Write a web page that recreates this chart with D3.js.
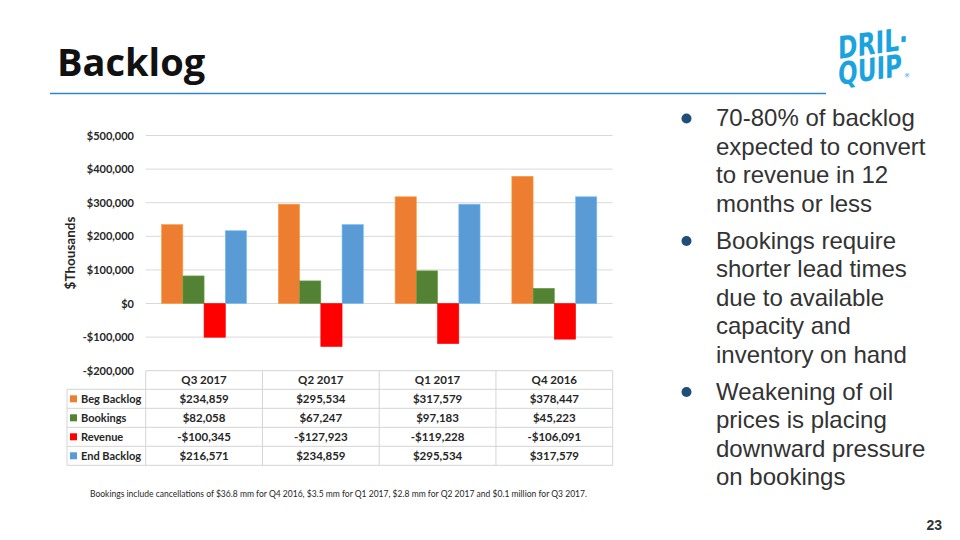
<!DOCTYPE html>
<html>
<head>
<meta charset="utf-8">
<script src="https://cdn.jsdelivr.net/npm/d3@7"></script>
<style>
  html, body { margin: 0; padding: 0; background: #fff; }
  svg { display: block; }
</style>
</head>
<body>
<svg id="chart" width="960" height="540"></svg>
<script>
// ---------- DATA ----------
const quarters = ["Q3 2017", "Q2 2017", "Q1 2017", "Q4 2016"];
const seriesNames = ["Beg Backlog", "Bookings", "Revenue", "End Backlog"];
const begBacklog = [234859, 295534, 317579, 378447];
const bookings = [82058, 67247, 97183, 45223];
const revenue = [-100345, -127923, -119228, -106091];
const endBacklog = [216571, 234859, 295534, 317579];
const yTicks = [-200000, -100000, 0, 100000, 200000, 300000, 400000, 500000];
const seriesColors = ["#ED7D31", "#548235", "#FF0000", "#5B9BD5"];
const bullets = [
  ["70-80% of backlog", "expected to convert", "to revenue in 12", "months or less"],
  ["Bookings require", "shorter lead times", "due to available", "capacity and", "inventory on hand"],
  ["Weakening of oil", "prices is placing", "downward pressure", "on bookings"]
];
const footnote = "Bookings include cancellations of $36.8 mm for Q4 2016, $3.5 mm for Q1 2017, $2.8 mm for Q2 2017 and $0.1 million for Q3 2017.";

const seriesValues = [begBacklog, bookings, revenue, endBacklog];

// ---------- SETUP ----------
const svg = d3.select("#chart");
const chartFont = "Lato, 'Open Sans', sans-serif";

// Title
svg.append("text")
  .attr("x", 57).attr("y", 76)
  .attr("font-family", "'Open Sans', 'Noto Sans', sans-serif")
  .attr("font-weight", 700)
  .attr("font-size", 38)
  .attr("fill", "#111")
  .text("Backlog");

svg.append("line")
  .attr("x1", 50).attr("x2", 826).attr("y1", 93.5).attr("y2", 93.5)
  .attr("stroke", "#2E86D0").attr("stroke-width", 1.6);

// Logo
const logo = svg.append("g").attr("transform", "translate(838,32) skewY(-8)");
logo.append("text")
  .attr("x", 0).attr("y", 27)
  .attr("font-family", "'DejaVu Sans', sans-serif")
  .attr("font-weight", 700)
  .attr("font-size", 31)
  .attr("fill", "#1BA3DF")
  .attr("textLength", 70).attr("lengthAdjust", "spacingAndGlyphs")
  .text("DRIL·");
logo.append("text")
  .attr("x", 0).attr("y", 53)
  .attr("font-family", "'DejaVu Sans', sans-serif")
  .attr("font-weight", 700)
  .attr("font-size", 31)
  .attr("fill", "#1BA3DF")
  .attr("textLength", 64).attr("lengthAdjust", "spacingAndGlyphs")
  .text("QUIP");
logo.append("text")
  .attr("x", 66).attr("y", 55)
  .attr("font-family", "'DejaVu Sans', sans-serif")
  .attr("font-size", 6)
  .attr("fill", "#1BA3DF")
  .text("®");

// ---------- CHART ----------
const plotLeft = 145.7, plotRight = 612.7;
const y = d3.scaleLinear().domain([-200000, 500000]).range([370.7, 135.5]);
const x0 = d3.scaleBand().domain(quarters).range([plotLeft, plotRight]).padding(0);
const groupPad = 15.9;
const x1 = d3.scaleBand().domain(seriesNames).range([groupPad, x0.bandwidth() - groupPad]).padding(0);

// gridlines
svg.append("g").selectAll("line")
  .data(yTicks.filter(t => t > -200000))
  .join("line")
  .attr("x1", plotLeft).attr("x2", plotRight)
  .attr("y1", d => y(d)).attr("y2", d => y(d))
  .attr("stroke", "#D9D9D9").attr("stroke-width", 1);

// y axis labels
const yAxis = d3.axisLeft(y).tickValues(yTicks)
  .tickFormat(d => (d < 0 ? "-$" : "$") + d3.format(",")(Math.abs(d)))
  .tickSize(0).tickPadding(0);
const yg = svg.append("g").attr("transform", "translate(134,0)").call(yAxis);
yg.select(".domain").remove();
yg.selectAll("text")
  .attr("font-family", chartFont)
  .attr("font-weight", 700)
  .attr("font-size", 11)
  .attr("fill", "#262626");

svg.append("text")
  .attr("transform", "translate(75,253) rotate(-90)")
  .attr("text-anchor", "middle")
  .attr("font-family", chartFont)
  .attr("font-weight", 700)
  .attr("font-size", 13.5)
  .attr("fill", "#262626")
  .text("$Thousands");

// bars
const barData = [];
quarters.forEach((q, qi) => {
  seriesNames.forEach((s, si) => {
    barData.push({ q, s, v: seriesValues[si][qi], c: seriesColors[si] });
  });
});
svg.append("g").selectAll("rect")
  .data(barData)
  .join("rect")
  .attr("x", d => x0(d.q) + x1(d.s))
  .attr("width", x1.bandwidth())
  .attr("y", d => y(Math.max(0, d.v)))
  .attr("height", d => Math.abs(y(d.v) - y(0)))
  .attr("fill", d => d.c)
  .attr("stroke", d => d3.color(d.c).brighter(0.6))
  .attr("stroke-width", 0.6);

// ---------- DATA TABLE ----------
const tableLeft = 67;
const headerTop = 370.7, headerBottom = 389.3, rowH = 19;
const tableBottom = headerBottom + rowH * seriesNames.length;
const tg = svg.append("g");
const gridColor = "#D4D4D4";

// horizontal lines
tg.append("line").attr("x1", plotLeft).attr("x2", plotRight)
  .attr("y1", headerTop).attr("y2", headerTop).attr("stroke", gridColor);
d3.range(seriesNames.length + 1).forEach(i => {
  const yy = headerBottom + i * rowH;
  tg.append("line").attr("x1", tableLeft).attr("x2", plotRight)
    .attr("y1", yy).attr("y2", yy).attr("stroke", gridColor);
});
// vertical lines
tg.append("line").attr("x1", tableLeft).attr("x2", tableLeft)
  .attr("y1", headerBottom).attr("y2", tableBottom).attr("stroke", gridColor);
quarters.forEach(q => {
  tg.append("line").attr("x1", x0(q)).attr("x2", x0(q))
    .attr("y1", headerTop).attr("y2", tableBottom).attr("stroke", gridColor);
});
tg.append("line").attr("x1", plotRight).attr("x2", plotRight)
  .attr("y1", headerTop).attr("y2", tableBottom).attr("stroke", gridColor);

// header text
tg.selectAll("text.hdr")
  .data(quarters)
  .join("text")
  .attr("class", "hdr")
  .attr("x", d => x0(d) + x0.bandwidth() / 2)
  .attr("y", (headerTop + headerBottom) / 2 + 4)
  .attr("text-anchor", "middle")
  .attr("font-family", chartFont)
  .attr("font-weight", 700)
  .attr("font-size", 11.5)
  .attr("fill", "#262626")
  .text(d => d);

const fmtVal = d => (d < 0 ? "-$" : "$") + d3.format(",")(Math.abs(d));
seriesNames.forEach((s, si) => {
  const cy = headerBottom + si * rowH + rowH / 2;
  tg.append("rect")
    .attr("x", 70).attr("y", cy - 3.5)
    .attr("width", 7).attr("height", 7)
    .attr("fill", seriesColors[si]);
  tg.append("text")
    .attr("x", 81).attr("y", cy + 4)
    .attr("font-family", chartFont)
    .attr("font-weight", 700)
    .attr("font-size", 11)
    .attr("fill", "#262626")
    .text(s);
  quarters.forEach((q, qi) => {
    tg.append("text")
      .attr("x", x0(q) + x0.bandwidth() / 2)
      .attr("y", cy + 4)
      .attr("text-anchor", "middle")
      .attr("font-family", chartFont)
      .attr("font-weight", 700)
      .attr("font-size", 11.5)
      .attr("fill", "#262626")
      .text(fmtVal(seriesValues[si][qi]));
  });
});

// footnote
svg.append("text")
  .attr("x", 90).attr("y", 497)
  .attr("font-family", chartFont)
  .attr("font-size", 10)
  .attr("fill", "#262626")
  .attr("textLength", 497).attr("lengthAdjust", "spacingAndGlyphs")
  .text(footnote);

// ---------- BULLETS ----------
const lineH = 28.5, paraGap = 8.5;
let baseY = 126;
const bg = svg.append("g");
bullets.forEach(lines => {
  bg.append("circle")
    .attr("cx", 686.5).attr("cy", baseY - 7.5).attr("r", 5)
    .attr("fill", "#1F4E79");
  lines.forEach((ln, li) => {
    bg.append("text")
      .attr("x", 716).attr("y", baseY + li * lineH)
      .attr("font-family", "'Liberation Sans', Arial, sans-serif")
      .attr("font-size", 24)
      .attr("fill", "#333333")
      .text(ln);
  });
  baseY += lines.length * lineH + paraGap;
});

// page number
svg.append("text")
  .attr("x", 942).attr("y", 530)
  .attr("text-anchor", "end")
  .attr("font-family", "'Liberation Sans', Arial, sans-serif")
  .attr("font-weight", 700)
  .attr("font-size", 14)
  .attr("fill", "#333")
  .text("23");
</script>
</body>
</html>
